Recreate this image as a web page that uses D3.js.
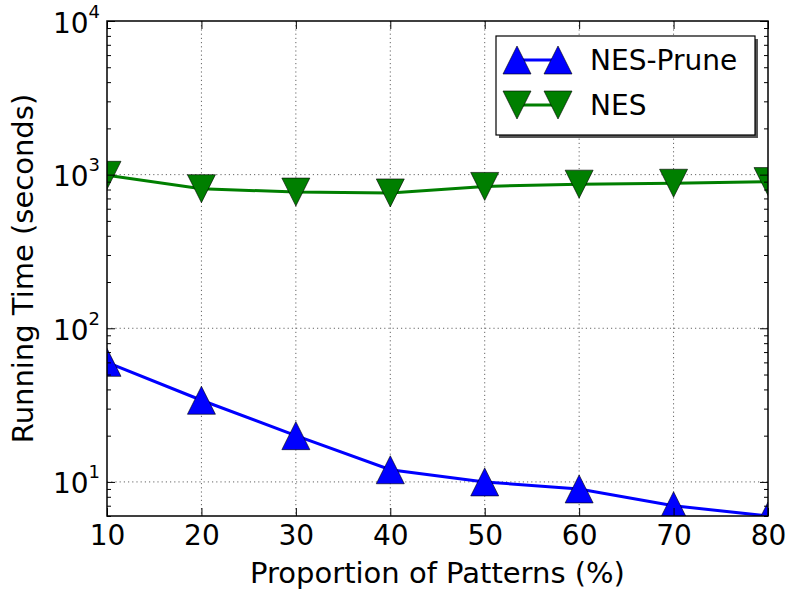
<!DOCTYPE html>
<html>
<head>
<meta charset="utf-8">
<script src="https://cdn.jsdelivr.net/npm/d3@7"></script>
<style>
  html, body { margin: 0; padding: 0; background: #fff; }
  svg { display: block; font-family: "DejaVu Sans", sans-serif; }
</style>
</head>
<body>
<svg id="chart" width="789" height="594"></svg>
<script>
// Proportion of patterns (%) on the x axis
const proportions = [10, 20, 30, 40, 50, 60, 70, 80];
// Running time in seconds for each method
const nesPrune = [60, 34, 20, 12, 10, 9, 7, 6];
const nes = [990, 810, 770, 760, 838, 867, 879, 901];
const seriesNames = ["NES-Prune", "NES"];
const xTicks = [10, 20, 30, 40, 50, 60, 70, 80];
const yExponents = [1, 2, 3, 4];

(function () {
const svg = d3.select("#chart");
const pLeft = 107, pRight = 768, pTop = 21, pBottom = 516;

const x = d3.scaleLinear().domain([10, 80]).range([pLeft, pRight]);
const y = d3.scaleLog().domain([6, 10000]).range([pBottom, pTop]);

const majorY = yExponents.map(e => Math.pow(10, e));
const minorY = [];
for (let e = 0; e < 4; e++) {
  for (let m = 2; m <= 9; m++) {
    const v = m * Math.pow(10, e);
    if (v >= 6 && v <= 10000) minorY.push(v);
  }
}

// dotted grid on major ticks
const grid = svg.append("g");
grid.selectAll("line.gx").data(xTicks.slice(1, -1)).join("line")
  .attr("class", "gx")
  .attr("x1", d => x(d)).attr("x2", d => x(d))
  .attr("y1", pTop).attr("y2", pBottom);
grid.selectAll("line.gy").data(majorY.slice(0, -1)).join("line")
  .attr("class", "gy")
  .attr("x1", pLeft).attr("x2", pRight)
  .attr("y1", d => y(d)).attr("y2", d => y(d));
grid.selectAll("line")
  .attr("stroke", "#666").attr("stroke-width", 1)
  .attr("stroke-dasharray", "1.2,3");

// clipped plotting area
svg.append("clipPath").attr("id", "plotClip")
  .append("rect").attr("x", pLeft).attr("y", pTop)
  .attr("width", pRight - pLeft).attr("height", pBottom - pTop);

const plot = svg.append("g").attr("clip-path", "url(#plotClip)");

const tri = s => `M0,${-s}L${-s},${s}L${s},${s}Z`;
const triDown = s => `M0,${s}L${-s},${-s}L${s},${-s}Z`;

const series = [
  { name: seriesNames[0], values: nesPrune, color: "#0000ff", marker: tri },
  { name: seriesNames[1], values: nes, color: "#007f00", marker: triDown }
];

const line = d3.line().x((d, i) => x(proportions[i])).y(d => y(d));

series.forEach(s => {
  plot.append("path")
    .attr("d", line(s.values))
    .attr("fill", "none")
    .attr("stroke", s.color)
    .attr("stroke-width", 3);
  plot.selectAll(null).data(s.values).join("path")
    .attr("transform", (d, i) => `translate(${x(proportions[i])},${y(d)})`)
    .attr("d", s.marker(14))
    .attr("fill", s.color)
    .attr("stroke", "#000")
    .attr("stroke-width", 0.6);
});

// axes with inward ticks on all four sides
const styleAxis = g => {
  g.select(".domain").remove();
  g.selectAll(".tick line").attr("stroke", "#000").attr("stroke-width", 1);
};

const bottomAxis = svg.append("g").attr("transform", `translate(0,${pBottom})`)
  .call(d3.axisBottom(x).tickValues(xTicks).tickSize(-8).tickPadding(9).tickFormat(d3.format("d")))
  .call(styleAxis);
bottomAxis.selectAll("text").attr("font-size", 28).attr("fill", "#000")
  .attr("font-family", "DejaVu Sans");

svg.append("g").attr("transform", `translate(0,${pTop})`)
  .call(d3.axisTop(x).tickValues(xTicks).tickSize(-8).tickFormat(""))
  .call(styleAxis);

const leftAxis = svg.append("g").attr("transform", `translate(${pLeft},0)`)
  .call(d3.axisLeft(y).tickValues(majorY).tickSize(-8).tickPadding(7).tickFormat(""))
  .call(styleAxis);
leftAxis.selectAll(".tick text").each(function(d) {
  const t = d3.select(this)
    .attr("font-family", "DejaVu Sans").attr("fill", "#000")
    .attr("dy", null).attr("y", 11);
  t.append("tspan").attr("font-size", 28).text("10");
  t.append("tspan").attr("font-size", 18).attr("dy", -15)
    .text(String(Math.round(Math.log10(d))));
});

svg.append("g").attr("transform", `translate(${pLeft},0)`)
  .call(d3.axisLeft(y).tickValues(minorY).tickSize(-4).tickFormat(""))
  .call(styleAxis);
svg.append("g").attr("transform", `translate(${pRight},0)`)
  .call(d3.axisRight(y).tickValues(majorY).tickSize(-8).tickFormat(""))
  .call(styleAxis);
svg.append("g").attr("transform", `translate(${pRight},0)`)
  .call(d3.axisRight(y).tickValues(minorY).tickSize(-4).tickFormat(""))
  .call(styleAxis);

// frame
svg.append("rect")
  .attr("x", pLeft).attr("y", pTop)
  .attr("width", pRight - pLeft).attr("height", pBottom - pTop)
  .attr("fill", "none").attr("stroke", "#000").attr("stroke-width", 1.5);

// axis titles
svg.append("text")
  .attr("x", (pLeft + pRight) / 2).attr("y", 583)
  .attr("text-anchor", "middle").attr("font-size", 29)
  .text("Proportion of Patterns (%)");
svg.append("text")
  .attr("transform", `translate(33,${(pTop + pBottom) / 2}) rotate(-90)`)
  .attr("text-anchor", "middle").attr("font-size", 29)
  .text("Running Time (seconds)");

// legend
const legend = svg.append("g");
const lx = 496, ly = 36, lw = 259, lh = 99;
legend.append("rect").attr("x", lx + 3).attr("y", ly + 3)
  .attr("width", lw).attr("height", lh).attr("fill", "#555");
legend.append("rect").attr("x", lx).attr("y", ly)
  .attr("width", lw).attr("height", lh)
  .attr("fill", "#fff").attr("stroke", "#000").attr("stroke-width", 1.2);
series.forEach((s, i) => {
  const cy = 60 + i * 45;
  legend.append("line").attr("x1", 517).attr("x2", 558)
    .attr("y1", cy).attr("y2", cy)
    .attr("stroke", s.color).attr("stroke-width", 3);
  [517, 558].forEach(mx => {
    legend.append("path")
      .attr("transform", `translate(${mx},${cy})`)
      .attr("d", s.marker(14))
      .attr("fill", s.color).attr("stroke", "#000").attr("stroke-width", 0.6);
  });
  legend.append("text").attr("x", 590).attr("y", cy + 10)
    .attr("font-size", 28).text(s.name);
});
})();
</script>
</body>
</html>
